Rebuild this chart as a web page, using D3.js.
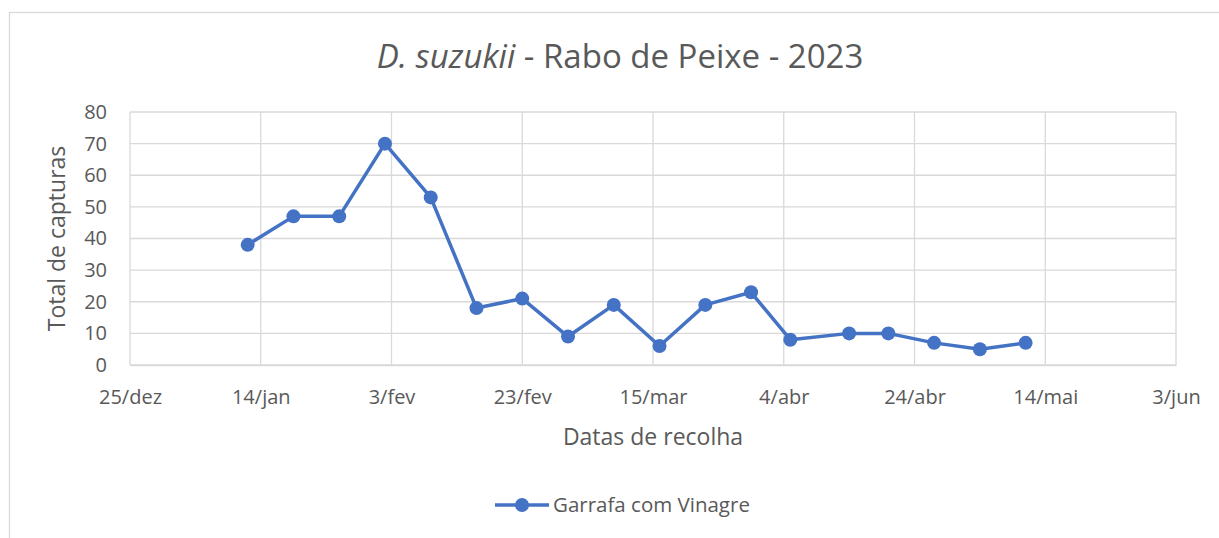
<!DOCTYPE html>
<html>
<head>
<meta charset="utf-8">
<script src="https://cdn.jsdelivr.net/npm/d3@7"></script>
<style>
  body { margin: 0; background: #fff; }
  svg, svg text { font-family: "Open Sans", "Noto Sans", sans-serif; }
  svg { display: block; }
</style>
</head>
<body>
<div id="chart"></div>
<script>
// data
var collectDates = ["2023-01-12","2023-01-19","2023-01-26","2023-02-02","2023-02-09","2023-02-16",
                    "2023-02-23","2023-03-02","2023-03-09","2023-03-16","2023-03-23","2023-03-30",
                    "2023-04-05","2023-04-14","2023-04-20","2023-04-27","2023-05-04","2023-05-11"];
var captures = [38, 47, 47, 70, 53, 18, 21, 9, 19, 6, 19, 23, 8, 10, 10, 7, 5, 7];
var xTickDates = ["2022-12-25","2023-01-14","2023-02-03","2023-02-23","2023-03-15",
                  "2023-04-04","2023-04-24","2023-05-14","2023-06-03"];
var yTicks = [0, 10, 20, 30, 40, 50, 60, 70, 80];
var monthNames = ["jan","fev","mar","abr","mai","jun","jul","ago","set","out","nov","dez"];
var seriesName = "Garrafa com Vinagre";

var width = 1219, height = 538;
var margin = { left: 130, right: 43, top: 112, bottom: 173 };
var textColor = "#595959", gridColor = "#d9d9d9", lineColor = "#4472C4";

var parse = d3.utcParse("%Y-%m-%d");
var data = collectDates.map(function(d, i) { return { date: parse(d), value: captures[i] }; });
var tickDates = xTickDates.map(parse);

var svg = d3.select("#chart").append("svg")
    .attr("width", width)
    .attr("height", height);

// outer chart frame (cut off at right and bottom)
svg.append("rect")
    .attr("x", 9.5).attr("y", 12.5)
    .attr("width", width + 20).attr("height", height + 20)
    .attr("fill", "none").attr("stroke", gridColor).attr("stroke-width", 1.3);

var x = d3.scaleUtc()
    .domain([tickDates[0], tickDates[tickDates.length - 1]])
    .range([margin.left, width - margin.right]);

var y = d3.scaleLinear()
    .domain([0, 80])
    .range([height - margin.bottom, margin.top]);

// gridlines
svg.append("g").selectAll("line.h")
    .data(yTicks)
  .enter().append("line")
    .attr("x1", x.range()[0]).attr("x2", x.range()[1])
    .attr("y1", function(d) { return y(d); }).attr("y2", function(d) { return y(d); })
    .attr("stroke", gridColor).attr("stroke-width", 1.3);

svg.append("g").selectAll("line.v")
    .data(tickDates)
  .enter().append("line")
    .attr("x1", function(d) { return x(d); }).attr("x2", function(d) { return x(d); })
    .attr("y1", y.range()[0]).attr("y2", y.range()[1])
    .attr("stroke", gridColor).attr("stroke-width", 1.3);

// axes
var xAxis = d3.axisBottom(x)
    .tickValues(tickDates)
    .tickSize(0)
    .tickPadding(25)
    .tickFormat(function(d) { return d.getUTCDate() + "/" + monthNames[d.getUTCMonth()]; });

var xAxisGroup = svg.append("g")
    .attr("transform", "translate(0," + y(0) + ")")
    .call(xAxis);
xAxisGroup.attr("font-family", null);
xAxisGroup.select(".domain").attr("stroke", gridColor).attr("stroke-width", 1.3);
xAxisGroup.selectAll("text").attr("fill", textColor).style("font-size", "20px");

var yAxis = d3.axisLeft(y)
    .tickValues(yTicks)
    .tickSize(0)
    .tickPadding(23);

var yAxisGroup = svg.append("g")
    .attr("transform", "translate(" + margin.left + ",0)")
    .call(yAxis);
yAxisGroup.attr("font-family", null);
yAxisGroup.select(".domain").remove();
yAxisGroup.selectAll("text").attr("fill", textColor).style("font-size", "20px");

// line + markers
var line = d3.line()
    .x(function(d) { return x(d.date); })
    .y(function(d) { return y(d.value); });

svg.append("path")
    .datum(data)
    .attr("d", line)
    .attr("fill", "none")
    .attr("stroke", lineColor)
    .attr("stroke-width", 3.5)
    .attr("stroke-linejoin", "round");

svg.append("g").selectAll("circle")
    .data(data)
  .enter().append("circle")
    .attr("cx", function(d) { return x(d.date); })
    .attr("cy", function(d) { return y(d.value); })
    .attr("r", 7)
    .attr("fill", lineColor);

// titles
var title = svg.append("text")
    .attr("x", 620).attr("y", 68)
    .attr("text-anchor", "middle")
    .attr("fill", textColor)
    .style("font-size", "33px");
title.append("tspan").style("font-style", "italic").text("D. suzukii");
title.append("tspan").text(" - Rabo de Peixe - 2023");

svg.append("text")
    .attr("x", 653).attr("y", 445)
    .attr("text-anchor", "middle")
    .attr("fill", textColor)
    .style("font-size", "23px")
    .text("Datas de recolha");

svg.append("text")
    .attr("transform", "translate(65," + ((y(0) + y(80)) / 2) + ") rotate(-90)")
    .attr("text-anchor", "middle")
    .attr("fill", textColor)
    .style("font-size", "23px")
    .text("Total de capturas");

// legend
var legend = svg.append("g").attr("transform", "translate(495,505)");
legend.append("line")
    .attr("x1", 0).attr("x2", 54)
    .attr("stroke", lineColor).attr("stroke-width", 3.5);
legend.append("circle")
    .attr("cx", 27).attr("r", 7).attr("fill", lineColor);
legend.append("text")
    .attr("x", 58).attr("y", 7)
    .attr("fill", textColor)
    .style("font-size", "20.5px")
    .text(seriesName);
</script>
</body>
</html>
